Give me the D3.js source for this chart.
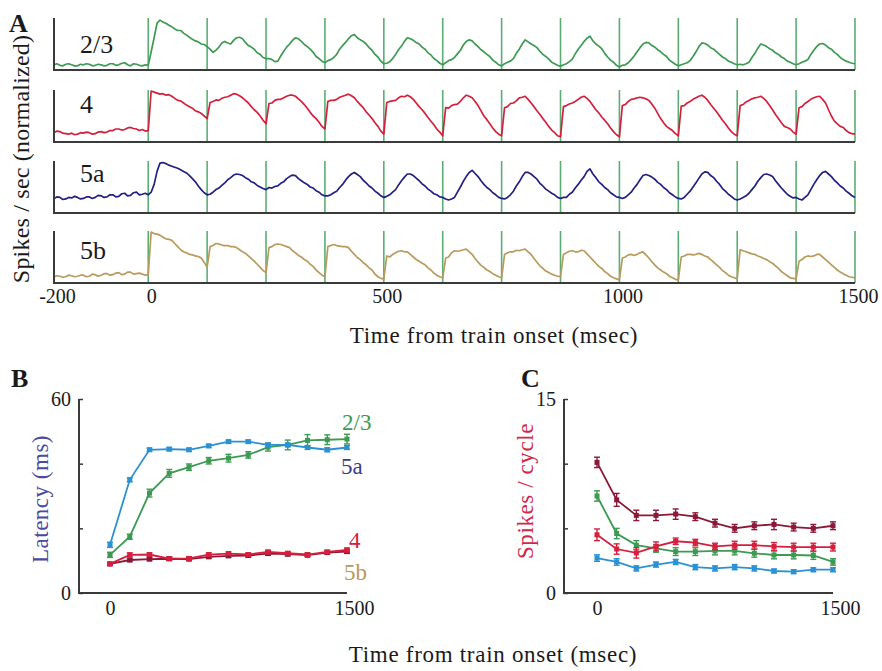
<!DOCTYPE html>
<html><head><meta charset="utf-8">
<script src="https://cdn.jsdelivr.net/npm/d3@7"></script>
<style>body{margin:0;background:#fff}text{font-family:"Liberation Serif","Times New Roman",serif}</style>
</head><body><svg id="c" width="882" height="671"></svg>
<script>
// ---------- DATA ----------
const layers = ["2/3", "4", "5a", "5b"];
const traceStart = -200, traceStep = 6.25;
const stimTimes = [0,125,250,375,500,625,750,875,1000,1125,1250,1375,1500];
const axisTicksA = [-200, 0, 500, 1000, 1500];
const trace23 = [0.10,0.12,0.09,0.08,0.11,0.12,0.10,0.08,0.08,0.11,0.10,0.12,0.11,0.08,0.09,0.11,0.10,0.08,0.09,0.12,0.12,0.09,0.10,0.13,0.14,0.10,0.08,0.12,0.11,0.09,0.08,0.10,0.09,
 0.35,0.62,0.90,0.96,0.92,0.90,0.86,0.83,0.79,0.76,0.76,0.71,0.67,0.63,0.59,0.56,0.54,0.50,0.49,0.45,
 0.40,0.34,0.38,0.44,0.52,0.55,0.52,0.50,0.57,0.62,0.63,0.60,0.53,0.47,0.44,0.40,0.33,0.30,0.24,0.22,
 0.22,0.20,0.16,0.17,0.27,0.36,0.44,0.50,0.57,0.62,0.60,0.55,0.49,0.45,0.40,0.34,0.26,0.22,0.17,0.14,
 0.18,0.20,0.24,0.30,0.40,0.47,0.53,0.60,0.66,0.68,0.62,0.58,0.55,0.50,0.43,0.38,0.30,0.25,0.17,0.12,
 0.13,0.16,0.22,0.30,0.39,0.46,0.55,0.62,0.60,0.57,0.53,0.50,0.44,0.40,0.33,0.29,0.22,0.18,0.13,0.10,
 0.14,0.18,0.20,0.24,0.31,0.38,0.48,0.55,0.58,0.56,0.50,0.45,0.39,0.35,0.30,0.26,0.19,0.15,0.10,0.08,
 0.12,0.15,0.17,0.22,0.32,0.40,0.50,0.58,0.54,0.50,0.47,0.43,0.36,0.30,0.26,0.21,0.15,0.12,0.09,0.07,
 0.10,0.12,0.16,0.21,0.31,0.40,0.47,0.55,0.61,0.65,0.56,0.50,0.46,0.41,0.32,0.25,0.19,0.15,0.09,0.06,
 0.09,0.10,0.14,0.20,0.27,0.35,0.43,0.50,0.53,0.52,0.47,0.44,0.39,0.35,0.30,0.26,0.19,0.15,0.11,0.08,
 0.10,0.12,0.14,0.18,0.26,0.35,0.45,0.52,0.51,0.48,0.43,0.40,0.35,0.30,0.25,0.22,0.17,0.15,0.12,0.10,
 0.11,0.10,0.12,0.15,0.24,0.32,0.42,0.50,0.48,0.45,0.41,0.38,0.33,0.30,0.25,0.22,0.17,0.15,0.12,0.10,
 0.12,0.15,0.17,0.20,0.30,0.38,0.45,0.50,0.51,0.48,0.43,0.40,0.34,0.30,0.24,0.20,0.17,0.15,0.13,0.12];
const trace4 = [0.18,0.21,0.20,0.17,0.16,0.15,0.17,0.14,0.15,0.18,0.17,0.19,0.18,0.15,0.16,0.19,0.20,0.18,0.19,0.22,0.22,0.25,0.25,0.23,0.24,0.27,0.28,0.26,0.25,0.22,0.24,0.21,0.22,
 0.98,0.96,0.94,0.92,0.93,0.90,0.91,0.88,0.84,0.80,0.79,0.75,0.71,0.68,0.65,0.60,0.58,0.55,0.50,0.45,
 0.76,0.78,0.81,0.80,0.84,0.86,0.87,0.90,0.93,0.92,0.89,0.85,0.80,0.75,0.68,0.62,0.57,0.50,0.42,0.35,
 0.74,0.75,0.80,0.82,0.82,0.85,0.88,0.90,0.90,0.88,0.83,0.78,0.72,0.65,0.57,0.50,0.45,0.38,0.30,0.25,
 0.78,0.80,0.80,0.82,0.86,0.88,0.90,0.92,0.89,0.85,0.78,0.72,0.66,0.58,0.52,0.45,0.37,0.30,0.21,0.15,
 0.76,0.78,0.79,0.80,0.85,0.88,0.87,0.90,0.87,0.82,0.75,0.68,0.62,0.55,0.47,0.40,0.33,0.25,0.19,0.12,
 0.66,0.65,0.70,0.72,0.73,0.78,0.85,0.90,0.88,0.85,0.78,0.70,0.60,0.50,0.43,0.35,0.27,0.20,0.15,0.12,
 0.66,0.68,0.74,0.75,0.79,0.85,0.86,0.88,0.82,0.75,0.68,0.60,0.53,0.45,0.38,0.30,0.23,0.18,0.12,0.10,
 0.68,0.70,0.73,0.75,0.78,0.82,0.86,0.88,0.84,0.78,0.70,0.62,0.56,0.48,0.42,0.35,0.27,0.20,0.14,0.10,
 0.70,0.72,0.78,0.82,0.83,0.85,0.86,0.85,0.83,0.80,0.73,0.65,0.55,0.45,0.37,0.30,0.26,0.22,0.16,0.12,
 0.69,0.70,0.75,0.78,0.82,0.85,0.88,0.90,0.86,0.80,0.72,0.65,0.58,0.50,0.42,0.35,0.27,0.20,0.15,0.12,
 0.70,0.72,0.77,0.80,0.83,0.85,0.86,0.88,0.84,0.78,0.70,0.62,0.53,0.45,0.37,0.30,0.28,0.25,0.19,0.15,
 0.66,0.68,0.74,0.78,0.82,0.85,0.87,0.88,0.82,0.75,0.62,0.50,0.40,0.35,0.30,0.28,0.22,0.18,0.16,0.15];
const trace5a = [0.28,0.31,0.30,0.26,0.27,0.30,0.29,0.32,0.30,0.27,0.28,0.31,0.31,0.28,0.30,0.34,0.33,0.30,0.31,0.35,0.35,0.31,0.32,0.37,0.38,0.33,0.34,0.39,0.40,0.35,0.36,0.38,0.35,
 0.40,0.55,0.80,0.96,0.97,0.95,0.92,0.90,0.88,0.86,0.83,0.80,0.77,0.72,0.66,0.60,0.52,0.45,0.39,0.35,
 0.36,0.40,0.45,0.48,0.53,0.58,0.64,0.68,0.73,0.75,0.74,0.72,0.68,0.65,0.60,0.58,0.53,0.50,0.47,0.45,
 0.49,0.48,0.51,0.52,0.57,0.60,0.66,0.70,0.73,0.72,0.66,0.62,0.58,0.55,0.50,0.48,0.43,0.40,0.35,0.33,
 0.33,0.35,0.39,0.42,0.49,0.55,0.63,0.70,0.75,0.78,0.74,0.70,0.63,0.58,0.52,0.48,0.42,0.38,0.33,0.30,
 0.32,0.35,0.40,0.45,0.54,0.62,0.69,0.75,0.75,0.72,0.67,0.62,0.56,0.52,0.46,0.42,0.37,0.35,0.31,0.30,
 0.27,0.25,0.27,0.30,0.40,0.50,0.61,0.70,0.78,0.82,0.76,0.70,0.62,0.55,0.49,0.45,0.39,0.35,0.30,0.28,
 0.27,0.30,0.35,0.42,0.52,0.60,0.70,0.78,0.78,0.75,0.70,0.65,0.57,0.52,0.46,0.42,0.38,0.35,0.30,0.28,
 0.30,0.30,0.36,0.40,0.48,0.55,0.63,0.70,0.80,0.85,0.75,0.68,0.60,0.55,0.49,0.45,0.39,0.35,0.31,0.30,
 0.28,0.30,0.35,0.40,0.48,0.55,0.64,0.72,0.74,0.72,0.69,0.65,0.59,0.55,0.49,0.45,0.39,0.35,0.31,0.28,
 0.27,0.30,0.36,0.42,0.50,0.58,0.67,0.75,0.79,0.78,0.72,0.68,0.61,0.55,0.47,0.42,0.36,0.32,0.27,0.25,
 0.27,0.30,0.33,0.38,0.45,0.52,0.61,0.68,0.74,0.75,0.73,0.70,0.62,0.55,0.48,0.42,0.36,0.32,0.29,0.30,
 0.27,0.25,0.30,0.35,0.45,0.55,0.64,0.72,0.78,0.80,0.75,0.70,0.63,0.58,0.52,0.48,0.42,0.38,0.33,0.30];
const trace5b = [0.12,0.14,0.13,0.11,0.12,0.15,0.14,0.12,0.13,0.15,0.15,0.12,0.13,0.17,0.16,0.13,0.15,0.18,0.18,0.15,0.16,0.19,0.20,0.16,0.17,0.21,0.21,0.17,0.18,0.19,0.17,0.15,0.16,
 0.98,0.95,0.94,0.92,0.88,0.85,0.84,0.82,0.76,0.70,0.64,0.60,0.58,0.55,0.54,0.52,0.51,0.48,0.40,0.30,
 0.70,0.72,0.76,0.75,0.73,0.72,0.72,0.70,0.70,0.68,0.64,0.60,0.57,0.52,0.47,0.42,0.36,0.30,0.24,0.20,
 0.68,0.70,0.74,0.75,0.74,0.72,0.70,0.68,0.62,0.58,0.53,0.50,0.45,0.42,0.36,0.32,0.25,0.20,0.15,0.12,
 0.70,0.72,0.74,0.72,0.71,0.70,0.70,0.68,0.61,0.55,0.49,0.45,0.39,0.35,0.29,0.25,0.17,0.12,0.09,0.08,
 0.52,0.50,0.55,0.58,0.61,0.62,0.60,0.60,0.55,0.50,0.45,0.42,0.38,0.35,0.29,0.25,0.19,0.15,0.12,0.10,
 0.48,0.50,0.58,0.62,0.61,0.62,0.64,0.65,0.60,0.55,0.47,0.40,0.34,0.30,0.25,0.22,0.18,0.15,0.12,0.10,
 0.55,0.58,0.60,0.60,0.63,0.62,0.64,0.65,0.60,0.55,0.47,0.40,0.33,0.28,0.23,0.20,0.17,0.15,0.13,0.12,
 0.55,0.58,0.61,0.62,0.60,0.60,0.63,0.62,0.56,0.50,0.44,0.38,0.32,0.28,0.22,0.18,0.13,0.10,0.08,0.06,
 0.48,0.50,0.54,0.55,0.53,0.55,0.58,0.60,0.54,0.48,0.41,0.35,0.29,0.25,0.21,0.18,0.13,0.10,0.07,0.06,
 0.50,0.52,0.55,0.55,0.54,0.55,0.57,0.55,0.52,0.50,0.45,0.40,0.35,0.30,0.24,0.20,0.15,0.12,0.10,0.08,
 0.64,0.62,0.60,0.58,0.56,0.55,0.52,0.50,0.47,0.45,0.41,0.38,0.33,0.28,0.22,0.18,0.14,0.10,0.09,0.08,
 0.42,0.45,0.50,0.52,0.51,0.52,0.55,0.55,0.50,0.45,0.40,0.35,0.30,0.25,0.21,0.18,0.15,0.12,0.11,0.10];

const cycleTimes = [0,125,250,375,500,625,750,875,1000,1125,1250,1375,1500];
const latency23 = [11.8,17.4,30.9,37.0,38.9,40.9,41.7,42.7,45.1,45.8,47.2,47.4,47.6];
const latency23Err = [0.8,0.8,1.2,1.2,1.0,1.0,1.2,1.0,1.2,1.5,1.8,1.5,1.5];
const latency5a = [14.9,35.0,44.3,44.5,44.3,45.5,46.8,46.8,45.8,45.8,45.0,44.3,45.0];
const latency5aErr = [0.8,0.6,0.5,0.5,0.5,0.5,0.5,0.5,0.5,0.5,0.6,0.6,0.6];
const latency4 = [9.0,11.8,11.9,10.6,10.7,11.9,12.2,11.9,12.7,12.3,11.9,12.7,13.3];
const latency4Err = [0.5,0.6,0.5,0.5,0.5,0.5,0.5,0.5,0.5,0.5,0.5,0.5,0.6];
const latency5b = [9.0,10.2,10.5,10.6,10.5,11.2,11.5,11.6,12.2,12.0,11.7,12.5,12.8];
const latency5bErr = [0.4,0.5,0.5,0.5,0.5,0.5,0.5,0.5,0.5,0.5,0.5,0.5,0.5];
const spikes5b = [10.1,7.2,6.0,6.0,6.1,5.9,5.4,5.0,5.2,5.3,5.1,5.0,5.2];
const spikes5bErr = [0.4,0.5,0.4,0.4,0.4,0.3,0.3,0.3,0.3,0.4,0.3,0.3,0.3];
const spikes23 = [7.5,4.6,3.7,3.45,3.2,3.2,3.25,3.25,3.07,2.94,2.94,2.9,2.4];
const spikes23Err = [0.4,0.4,0.35,0.3,0.3,0.3,0.3,0.3,0.3,0.3,0.3,0.3,0.25];
const spikes4 = [4.5,3.4,3.1,3.6,4.0,3.9,3.6,3.7,3.7,3.6,3.55,3.55,3.55];
const spikes4Err = [0.45,0.4,0.4,0.35,0.25,0.25,0.25,0.3,0.3,0.3,0.3,0.3,0.3];
const spikes5a = [2.7,2.4,1.9,2.2,2.4,2.0,1.9,2.0,1.9,1.7,1.65,1.8,1.8];
const spikes5aErr = [0.25,0.25,0.2,0.2,0.2,0.2,0.2,0.2,0.2,0.15,0.15,0.15,0.15];

// ---------- DRAW ----------
const svg = d3.select("#c");
const axisCol = "#3a3a3a", txt = "#1a1a1a";
const cGreen = "#3c9a52", cRed = "#d4203c", cNavy = "#222080", cTan = "#b99a5c";
const cBlue = "#2a92d4", cMaroon = "#8c1838", cStim = "#5aae74";
const fmt = d => String(d);

// Panel A
const xA = d3.scaleLinear().domain([-200, 1500]).range([54, 855]);
const rowTops = [18, 90, 161, 231], rowH = 52;
const labelBase = [53, 113, 182, 259];
const traces = [trace23, trace4, trace5a, trace5b];
const traceCols = [cGreen, cRed, cNavy, cTan];
traces.forEach((tr, r) => {
  const y = d3.scaleLinear().domain([0, 1]).range([rowTops[r] + rowH, rowTops[r]]);
  const g = svg.append("g");
  g.selectAll("line.stim").data(stimTimes).join("line")
    .attr("x1", d => xA(d)).attr("x2", d => xA(d))
    .attr("y1", y(0)).attr("y2", y(1))
    .attr("stroke", cStim).attr("stroke-width", 1.6);
  g.append("path").datum(tr)
    .attr("d", d3.line().x((d, i) => xA(traceStart + i * traceStep)).y(d => y(d)))
    .attr("fill", "none").attr("stroke", traceCols[r]).attr("stroke-width", 1.7)
    .attr("stroke-linejoin", "round");
  g.append("line").attr("x1", xA(-200)).attr("x2", xA(-200)).attr("y1", y(0) + 1).attr("y2", y(1))
    .attr("stroke", axisCol).attr("stroke-width", 2);
  g.append("line").attr("x1", xA(-200)).attr("x2", xA(1500)).attr("y1", y(0)).attr("y2", y(0))
    .attr("stroke", axisCol).attr("stroke-width", 2.2);
  g.append("text").attr("x", 80).attr("y", labelBase[r])
    .attr("font-size", 26).attr("fill", txt).text(layers[r]);
});
const axA = svg.append("g").attr("transform", `translate(0,${rowTops[3] + rowH})`)
  .call(d3.axisBottom(xA).tickValues(axisTicksA).tickFormat(fmt).tickSize(0).tickPadding(6));
axA.select(".domain").remove();
axA.selectAll("text").attr("font-size", 20).attr("dx", 3).attr("fill", txt)
  .attr("font-family", "Liberation Serif");
svg.append("text").attr("x", 494).attr("y", 343).attr("text-anchor", "middle")
  .attr("font-size", 23).attr("letter-spacing", 0.7).attr("fill", txt).text("Time from train onset (msec)");
svg.append("text").attr("transform", "translate(29,159) rotate(-90)").attr("text-anchor", "middle")
  .attr("font-size", 24).attr("letter-spacing", 0.2).attr("fill", txt).text("Spikes / sec (normalized)");
svg.append("text").attr("x", 9).attr("y", 32).attr("font-size", 26).attr("font-weight", "bold")
  .attr("fill", txt).text("A");

// Panels B & C
function smallPanel(opts) {
  const x = d3.scaleLinear().domain([0, 1500]).range(opts.xr);
  const y = d3.scaleLinear().domain([0, opts.ymax]).range([593, 399]);
  const g = svg.append("g");
  g.append("line").attr("x1", opts.axisX).attr("x2", opts.axisX).attr("y1", 399).attr("y2", 594)
    .attr("stroke", axisCol).attr("stroke-width", 2);
  g.append("line").attr("x1", opts.axisX - 1).attr("x2", opts.xr[1]).attr("y1", 593).attr("y2", 593)
    .attr("stroke", axisCol).attr("stroke-width", 2);
  const yAx = g.append("g").attr("transform", `translate(${opts.axisX},0)`)
    .call(d3.axisLeft(y).tickValues(opts.yticks).tickSize(-4).tickPadding(8)
      .tickFormat(d => opts.ylabels.includes(d) ? fmt(d) : ""));
  yAx.select(".domain").remove();
  yAx.selectAll("line").attr("stroke", axisCol).attr("stroke-width", 1.5);
  yAx.selectAll("text").attr("font-size", 20).attr("fill", txt).attr("font-family", "Liberation Serif");
  const xAx = g.append("g").attr("transform", "translate(0,593)")
    .call(d3.axisBottom(x).tickValues([0, 1500]).tickFormat(fmt).tickSize(0).tickPadding(8));
  xAx.select(".domain").remove();
  xAx.selectAll("text").attr("font-size", 20).attr("fill", txt).attr("dx", d => d === 0 ? 0 : 7)
    .attr("font-family", "Liberation Serif");
  opts.series.forEach(s => {
    const pts = cycleTimes.map((t, i) => ({ t, v: s.v[i], e: s.e[i] }));
    g.append("path").datum(pts)
      .attr("d", d3.line().x(d => x(d.t)).y(d => y(d.v)))
      .attr("fill", "none").attr("stroke", s.c).attr("stroke-width", 1.8);
    const eb = g.append("g").attr("stroke", s.c).attr("stroke-width", 1.4);
    eb.selectAll("line.v").data(pts).join("line")
      .attr("x1", d => x(d.t)).attr("x2", d => x(d.t))
      .attr("y1", d => y(d.v - d.e)).attr("y2", d => y(d.v + d.e));
    eb.selectAll("line.t").data(pts).join("line")
      .attr("x1", d => x(d.t) - 3).attr("x2", d => x(d.t) + 3)
      .attr("y1", d => y(d.v + d.e)).attr("y2", d => y(d.v + d.e));
    eb.selectAll("line.b").data(pts).join("line")
      .attr("x1", d => x(d.t) - 3).attr("x2", d => x(d.t) + 3)
      .attr("y1", d => y(d.v - d.e)).attr("y2", d => y(d.v - d.e));
    g.selectAll(null).data(pts).join("rect")
      .attr("x", d => x(d.t) - 2.5).attr("y", d => y(d.v) - 2.5)
      .attr("width", 5).attr("height", 5).attr("fill", s.c);
  });
}

smallPanel({
  xr: [110, 347], axisX: 79, ymax: 60, yticks: [0, 20, 40, 60], ylabels: [0, 60],
  series: [
    { v: latency5b, e: latency5bErr, c: cMaroon },
    { v: latency4, e: latency4Err, c: cRed },
    { v: latency23, e: latency23Err, c: cGreen },
    { v: latency5a, e: latency5aErr, c: cBlue }
  ]
});
smallPanel({
  xr: [597, 833], axisX: 564, ymax: 15, yticks: [0, 5, 10, 15], ylabels: [0, 15],
  series: [
    { v: spikes5a, e: spikes5aErr, c: cBlue },
    { v: spikes23, e: spikes23Err, c: cGreen },
    { v: spikes4, e: spikes4Err, c: cRed },
    { v: spikes5b, e: spikes5bErr, c: cMaroon }
  ]
});

const bLabels = [
  { t: "2/3", x: 342, y: 430, c: cGreen },
  { t: "5a", x: 341, y: 474, c: "#3c3c8c" },
  { t: "4", x: 349, y: 548, c: cRed },
  { t: "5b", x: 344, y: 580, c: cTan }
];
svg.selectAll("text.bl").data(bLabels).join("text")
  .attr("x", d => d.x).attr("y", d => d.y).attr("font-size", 23).attr("fill", d => d.c).text(d => d.t);
svg.append("text").attr("transform", "translate(48,499) rotate(-90)").attr("text-anchor", "middle")
  .attr("font-size", 23).attr("letter-spacing", 0.5).attr("fill", "#4a4aa0").text("Latency (ms)");
svg.append("text").attr("transform", "translate(533,491) rotate(-90)").attr("text-anchor", "middle")
  .attr("font-size", 23).attr("letter-spacing", 0.6).attr("fill", "#d02848").text("Spikes / cycle");
svg.append("text").attr("x", 11).attr("y", 387).attr("font-size", 26).attr("font-weight", "bold")
  .attr("fill", txt).text("B");
svg.append("text").attr("x", 521).attr("y", 387).attr("font-size", 26).attr("font-weight", "bold")
  .attr("fill", txt).text("C");
svg.append("text").attr("x", 493).attr("y", 662).attr("text-anchor", "middle")
  .attr("font-size", 23).attr("letter-spacing", 0.7).attr("fill", txt).text("Time from train onset (msec)");
</script></body></html>
